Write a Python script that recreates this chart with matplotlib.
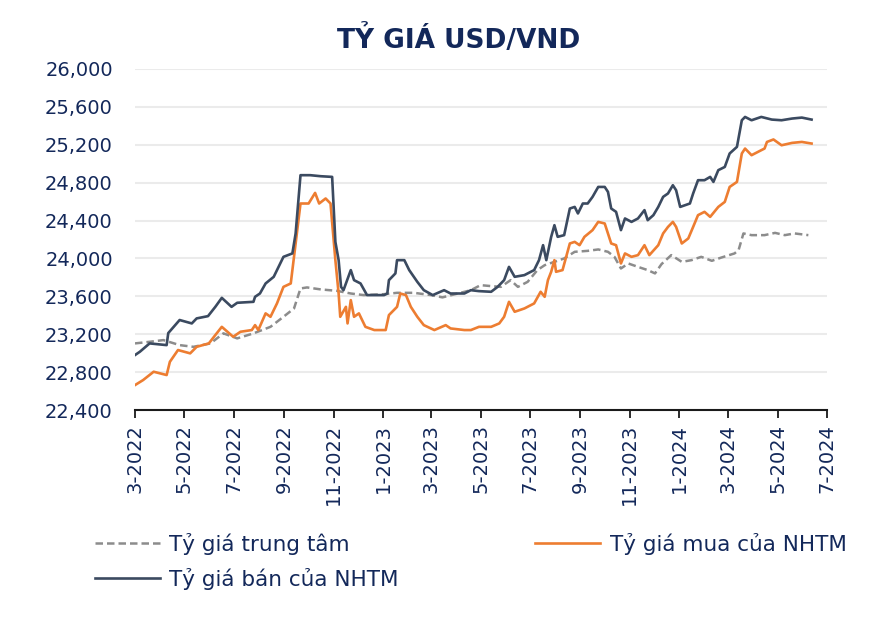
import matplotlib
matplotlib.use("Agg")
import matplotlib.pyplot as plt
import matplotlib.dates as mdates
from matplotlib.lines import Line2D
import pandas as pd

plt.rcParams['font.family'] = ['DejaVu Sans']

title = "TỶ GIÁ USD/VND"
labels = ["Tỷ giá trung tâm", "Tỷ giá mua của NHTM", "Tỷ giá bán của NHTM"]

central_dates = ["2022-03-01", "2022-03-19", "2022-04-05", "2022-04-25", "2022-05-12", "2022-06-02",
                 "2022-06-18", "2022-07-05", "2022-07-25", "2022-08-15", "2022-08-31", "2022-09-13",
                 "2022-09-21", "2022-09-29", "2022-10-16", "2022-11-05", "2022-11-22", "2022-12-08",
                 "2023-01-02", "2023-01-18", "2023-02-08", "2023-03-01", "2023-03-15", "2023-04-03",
                 "2023-04-19", "2023-05-01", "2023-05-14", "2023-05-26", "2023-06-07", "2023-06-16",
                 "2023-06-28", "2023-07-10", "2023-07-19", "2023-07-31", "2023-08-12", "2023-08-25",
                 "2023-09-10", "2023-09-23", "2023-10-05", "2023-10-13", "2023-10-21", "2023-10-30",
                 "2023-11-11", "2023-11-23", "2023-12-02", "2023-12-10", "2023-12-22", "2024-01-04",
                 "2024-01-16", "2024-01-28", "2024-02-10", "2024-02-22", "2024-03-09", "2024-03-14",
                 "2024-03-20", "2024-03-30", "2024-04-15", "2024-04-28", "2024-05-10", "2024-05-22",
                 "2024-06-08"]
central_vals = [23103, 23120, 23138, 23085, 23067, 23103,
                23209, 23156, 23209, 23278, 23384, 23472,
                23683, 23694, 23673, 23658, 23630, 23613,
                23623, 23637, 23637, 23613, 23589, 23630,
                23665, 23718, 23708, 23700, 23771, 23700,
                23753, 23877, 23929, 23964, 24000, 24070,
                24080, 24095, 24070, 24017, 23894, 23947,
                23911, 23877, 23842, 23940, 24035, 23964,
                23982, 24017, 23975, 24010, 24053, 24088,
                24264, 24246, 24246, 24270, 24246, 24264,
                24246]

buy_dates = ["2022-03-01", "2022-03-11", "2022-03-24", "2022-04-09", "2022-04-13", "2022-04-23",
             "2022-05-08", "2022-05-16", "2022-05-31", "2022-06-08", "2022-06-16", "2022-06-30",
             "2022-07-09", "2022-07-23", "2022-07-27", "2022-07-31", "2022-08-09", "2022-08-15",
             "2022-08-23", "2022-08-31", "2022-09-09", "2022-09-13", "2022-09-21", "2022-10-01",
             "2022-10-09", "2022-10-14", "2022-10-22", "2022-10-28", "2022-11-03", "2022-11-07",
             "2022-11-09", "2022-11-16", "2022-11-18", "2022-11-22", "2022-11-26", "2022-12-02",
             "2022-12-10", "2022-12-21", "2023-01-04", "2023-01-08", "2023-01-18", "2023-01-22",
             "2023-01-29", "2023-02-04", "2023-02-12", "2023-02-20", "2023-03-05", "2023-03-19",
             "2023-03-25", "2023-04-11", "2023-04-19", "2023-04-29", "2023-05-14", "2023-05-24",
             "2023-05-30", "2023-06-05", "2023-06-12", "2023-06-24", "2023-07-06", "2023-07-14",
             "2023-07-19", "2023-07-23", "2023-07-27", "2023-07-31", "2023-08-02", "2023-08-10",
             "2023-08-19", "2023-08-25", "2023-08-31", "2023-09-06", "2023-09-16", "2023-09-23",
             "2023-10-01", "2023-10-09", "2023-10-15", "2023-10-21", "2023-10-26", "2023-11-03",
             "2023-11-11", "2023-11-19", "2023-11-25", "2023-12-06", "2023-12-12", "2023-12-18",
             "2023-12-24", "2023-12-28", "2024-01-04", "2024-01-12", "2024-01-18", "2024-01-24",
             "2024-02-01", "2024-02-08", "2024-02-18", "2024-02-26", "2024-03-03", "2024-03-12",
             "2024-03-18", "2024-03-22", "2024-03-30", "2024-04-11", "2024-04-15", "2024-04-18",
             "2024-04-26", "2024-05-06", "2024-05-19", "2024-05-31", "2024-06-12"]
buy_vals = [22663, 22716, 22804, 22769, 22909, 23033,
            22998, 23067, 23103, 23191, 23278, 23173,
            23226, 23244, 23296, 23244, 23420, 23384,
            23525, 23700, 23736, 24017, 24580, 24580,
            24692, 24580, 24633, 24580, 23982, 23630,
            23384, 23489, 23314, 23560, 23384, 23420,
            23278, 23244, 23244, 23402, 23489, 23630,
            23613, 23489, 23384, 23296, 23244, 23296,
            23261, 23244, 23244, 23278, 23278, 23314,
            23384, 23542, 23437, 23472, 23525, 23648,
            23595, 23771, 23859, 23982, 23859, 23877,
            24158, 24175, 24140, 24228, 24299, 24386,
            24369, 24158, 24140, 23947, 24053, 24017,
            24035, 24140, 24035, 24140, 24264, 24333,
            24386, 24333, 24158, 24211, 24333, 24457,
            24492, 24439, 24544, 24597, 24755, 24808,
            25108, 25160, 25090, 25143, 25160, 25230,
            25256, 25195, 25220, 25230, 25213]

sell_dates = ["2022-03-01", "2022-03-07", "2022-03-19", "2022-04-09", "2022-04-11", "2022-04-25",
              "2022-05-10", "2022-05-16", "2022-05-30", "2022-06-08", "2022-06-16", "2022-06-28",
              "2022-07-05", "2022-07-25", "2022-07-27", "2022-08-02", "2022-08-09", "2022-08-19",
              "2022-08-31", "2022-09-11", "2022-09-15", "2022-09-21", "2022-10-03", "2022-10-16",
              "2022-10-30", "2022-11-03", "2022-11-07", "2022-11-10", "2022-11-13", "2022-11-22",
              "2022-11-26", "2022-12-04", "2022-12-12", "2023-01-02", "2023-01-06", "2023-01-08",
              "2023-01-16", "2023-01-18", "2023-01-27", "2023-02-02", "2023-02-12", "2023-02-20",
              "2023-03-03", "2023-03-17", "2023-03-25", "2023-04-11", "2023-04-19", "2023-04-29",
              "2023-05-14", "2023-05-22", "2023-05-30", "2023-06-05", "2023-06-12", "2023-06-24",
              "2023-07-06", "2023-07-12", "2023-07-17", "2023-07-21", "2023-07-27", "2023-07-31",
              "2023-08-04", "2023-08-12", "2023-08-19", "2023-08-25", "2023-08-29", "2023-09-04",
              "2023-09-10", "2023-09-16", "2023-09-23", "2023-10-01", "2023-10-05", "2023-10-09",
              "2023-10-15", "2023-10-21", "2023-10-26", "2023-11-03", "2023-11-11", "2023-11-19",
              "2023-11-23", "2023-11-30", "2023-12-06", "2023-12-12", "2023-12-18", "2023-12-24",
              "2023-12-28", "2024-01-02", "2024-01-08", "2024-01-14", "2024-01-18", "2024-01-24",
              "2024-02-01", "2024-02-08", "2024-02-12", "2024-02-18", "2024-02-26", "2024-03-03",
              "2024-03-12", "2024-03-18", "2024-03-22", "2024-03-30", "2024-04-11", "2024-04-24",
              "2024-05-06", "2024-05-19", "2024-05-31", "2024-06-12"]
sell_vals = [22980, 23015, 23103, 23085, 23212, 23350,
             23314, 23367, 23391, 23489, 23584, 23489,
             23532, 23542, 23595, 23630, 23736, 23806,
             24017, 24053, 24264, 24879, 24879, 24868,
             24861, 24175, 23982, 23700, 23665, 23877,
             23771, 23736, 23613, 23613, 23630, 23771,
             23842, 23982, 23982, 23877, 23753, 23665,
             23613, 23665, 23630, 23630, 23665, 23655,
             23648, 23700, 23771, 23911, 23806, 23824,
             23877, 23982, 24140, 23982, 24228, 24351,
             24228, 24246, 24527, 24544, 24475, 24580,
             24580, 24650, 24755, 24755, 24703, 24527,
             24492, 24299, 24422, 24386, 24422, 24510,
             24404, 24457, 24544, 24650, 24686, 24773,
             24720, 24544, 24562, 24580, 24686, 24826,
             24826, 24861, 24808, 24932, 24966, 25108,
             25178, 25459, 25494, 25459, 25494, 25466,
             25459, 25477, 25487, 25466]

y_ticks = [22400, 22800, 23200, 23600, 24000, 24400, 24800, 25200, 25600, 26000]
x_start, x_end = "2022-03-01", "2024-07-01"

navy = "#13285A"
c_central = "#8C8C8C"
c_buy = "#ED7D31"
c_sell = "#3B4A60"

fig = plt.figure(figsize=(8.88, 6.2), dpi=100)
ax = fig.add_axes([135/888, 1-410/620, (827-135)/888, (410-69)/620])

ax.plot(pd.to_datetime(central_dates), central_vals, color=c_central, lw=1.8, ls=(0, (3, 1.6)))
ax.plot(pd.to_datetime(buy_dates), buy_vals, color=c_buy, lw=1.9)
ax.plot(pd.to_datetime(sell_dates), sell_vals, color=c_sell, lw=1.9)

ax.set_ylim(y_ticks[0], y_ticks[-1])
ax.set_yticks(y_ticks)
ax.set_yticklabels([f"{v:,}" for v in y_ticks])
ax.set_xlim(pd.Timestamp(x_start), pd.Timestamp(x_end))
ax.xaxis.set_major_locator(mdates.MonthLocator(bymonth=[1, 3, 5, 7, 9, 11]))
ax.xaxis.set_major_formatter(plt.FuncFormatter(
    lambda v, p: f"{mdates.num2date(v).month}-{mdates.num2date(v).year}"))

ax.grid(axis='y', color='#EBEBEB', lw=1.5)
ax.set_axisbelow(True)
for s in ['top', 'right', 'left']:
    ax.spines[s].set_visible(False)
ax.spines['bottom'].set_color('#1a1a1a')
ax.spines['bottom'].set_linewidth(1.5)
ax.tick_params(axis='y', length=0, labelsize=14, labelcolor=navy, pad=16)
ax.tick_params(axis='x', length=6, width=1.3, color='#1a1a1a', labelsize=14,
               labelcolor=navy, rotation=90, pad=4)

fig.text(459/888, 1-40/620, title, ha='center', va='center', fontsize=19,
         fontweight='bold', color=navy)

handles = [Line2D([], [], color=c_central, lw=1.8, ls=(0, (3, 1.6))),
           Line2D([], [], color=c_sell, lw=1.9),
           Line2D([], [], color=c_buy, lw=1.9)]
leg = fig.legend(handles, [labels[0], labels[2], labels[1]], ncol=2, loc='upper left',
                 bbox_to_anchor=(95/888, 1-533/620), frameon=False, fontsize=15.5,
                 handlelength=3.0, handletextpad=0.45, columnspacing=6.35,
                 borderpad=0, borderaxespad=0, labelspacing=0.6)
for t in leg.get_texts():
    t.set_color(navy)

fig.savefig("out.png", dpi=100)
